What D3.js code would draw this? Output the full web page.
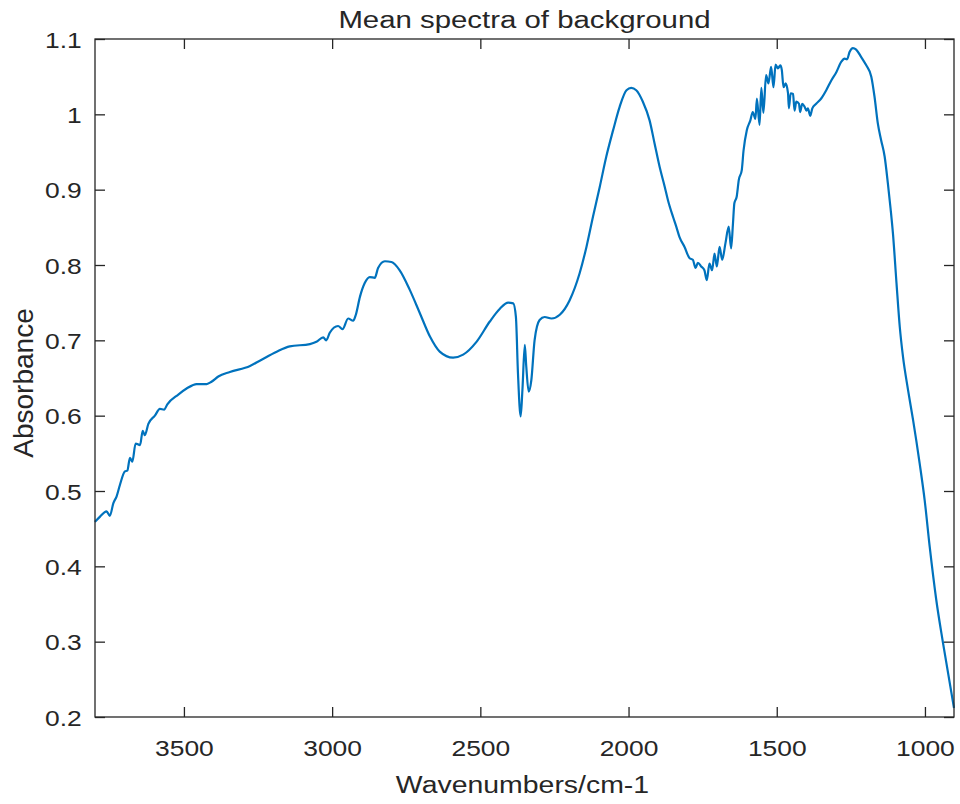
<!DOCTYPE html>
<html>
<head>
<meta charset="utf-8">
<script src="https://cdn.jsdelivr.net/npm/d3@7"></script>
<style>
  body { margin: 0; background: #fff; }
  svg text { font-family: "Liberation Sans", Arial, Helvetica, sans-serif; fill: #262626; }
</style>
</head>
<body>
<div id="chart"></div>
<script>
// wavenumbers (cm-1), high to low
var wavenumbers = [3800, 3783, 3761, 3750, 3738, 3727, 3716, 3699, 3691, 3682, 3674, 3663, 3648, 3639, 3632, 3620,
    3598, 3581, 3567, 3556, 3519, 3491, 3457, 3423, 3407, 3384, 3345, 3277, 3244, 3187, 3143, 3075, 3053, 3030, 3020,
    3008, 2980, 2965, 2946, 2929, 2920, 2906, 2890, 2873, 2856, 2845, 2822, 2800, 2772, 2738, 2704, 2670, 2637, 2592,
    2558, 2513, 2468, 2434, 2406, 2389, 2380, 2373, 2364, 2358, 2350, 2345, 2337, 2328, 2317, 2300, 2283, 2260, 2232,
    2199, 2165, 2142, 2120, 2097, 2075, 2052, 2030, 2007, 1991, 1974, 1952, 1929, 1912, 1895, 1878, 1867, 1850, 1839,
    1828, 1811, 1794, 1783, 1774, 1766, 1755, 1744, 1736, 1727, 1718, 1710, 1702, 1693, 1684, 1673, 1662, 1654, 1648,
    1643, 1635, 1628, 1618, 1612, 1601, 1589, 1581, 1572, 1567, 1558, 1552, 1545, 1536, 1528, 1519, 1511, 1504, 1496,
    1488, 1483, 1477, 1470, 1462, 1459, 1453, 1445, 1440, 1434, 1425, 1421, 1414, 1406, 1400, 1395, 1387, 1380, 1367,
    1350, 1333, 1316, 1299, 1282, 1271, 1263, 1254, 1243, 1232, 1215, 1198, 1181, 1170, 1159, 1148, 1136, 1125, 1116,
    1108, 1096, 1085, 1074, 1057, 1040, 1018, 1001, 984, 962, 939, 906, 902];

var absorbance = [0.459, 0.466, 0.473, 0.467, 0.484, 0.493, 0.508, 0.526, 0.527, 0.544, 0.539, 0.563, 0.561, 0.580, 0.574, 0.589,
    0.600, 0.609, 0.608, 0.615, 0.628, 0.636, 0.642, 0.642, 0.645, 0.652, 0.658, 0.666, 0.673, 0.685, 0.692, 0.695, 0.698, 0.704, 0.700,
    0.710, 0.719, 0.715, 0.729, 0.726, 0.734, 0.758, 0.776, 0.784, 0.783, 0.796, 0.805, 0.804, 0.793, 0.767, 0.736, 0.705, 0.685, 0.677,
    0.681, 0.698, 0.725, 0.742, 0.750, 0.749, 0.731, 0.656, 0.599, 0.634, 0.694, 0.665, 0.632, 0.647, 0.700, 0.727, 0.731, 0.729, 0.734,
    0.753, 0.789, 0.824, 0.864, 0.904, 0.944, 0.979, 1.010, 1.032, 1.035, 1.032, 1.017, 0.992, 0.961, 0.930, 0.904, 0.886, 0.864, 0.851,
    0.837, 0.824, 0.809, 0.807, 0.796, 0.803, 0.798, 0.793, 0.780, 0.802, 0.793, 0.815, 0.798, 0.824, 0.807, 0.829, 0.851, 0.822, 0.853,
    0.882, 0.891, 0.913, 0.926, 0.952, 0.979, 0.992, 1.003, 0.994, 1.021, 0.986, 1.035, 1.002, 1.052, 1.041, 1.063, 1.036, 1.066, 1.061,
    1.065, 1.059, 1.036, 1.041, 1.028, 1.008, 1.028, 1.027, 1.005, 1.017, 1.014, 1.003, 1.014, 1.010, 1.005, 1.008, 0.998, 1.008, 1.014,
    1.021, 1.032, 1.045, 1.056, 1.070, 1.074, 1.073, 1.083, 1.088, 1.086, 1.076, 1.065, 1.050, 1.023, 0.988, 0.966, 0.944, 0.908, 0.875,
    0.842, 0.776, 0.718, 0.678, 0.634, 0.594, 0.537, 0.488, 0.426, 0.356, 0.298, 0.221, 0.212];

var xTicks = [3500, 3000, 2500, 2000, 1500, 1000];
var xTickLabels = ['3500', '3000', '2500', '2000', '1500', '1000'];
var yTicks = [0.2, 0.3, 0.4, 0.5, 0.6, 0.7, 0.8, 0.9, 1, 1.1];
var yTickLabels = ['0.2', '0.3', '0.4', '0.5', '0.6', '0.7', '0.8', '0.9', '1', '1.1'];

var svgWidth = 960, svgHeight = 804;
var margin = {left: 95, top: 39, right: 6, bottom: 87};
var plotW = svgWidth - margin.left - margin.right;
var plotH = svgHeight - margin.top - margin.bottom;
var axisColor = '#262626';
var stretch = 1.2; // text in the picture is drawn a bit wide

var points = wavenumbers.map(function(w, i) { return {x: w, y: absorbance[i]}; });

var svg = d3.select('#chart')
    .append('svg')
    .attr('width', svgWidth)
    .attr('height', svgHeight);

var g = svg.append('g')
    .attr('transform', 'translate(' + margin.left + ',' + margin.top + ')');

// reversed x axis like the spectrum software does
var x = d3.scaleLinear().domain([3800, 902]).range([0, plotW]);
var y = d3.scaleLinear().domain([0.2, 1.1]).range([plotH, 0]);

function styleAxis(sel) {
    sel.select('.domain').remove();
    sel.selectAll('line').attr('stroke', axisColor).attr('stroke-width', 1.3);
    sel.selectAll('text').attr('fill', axisColor);
}

var xAxis = g.append('g')
    .attr('transform', 'translate(0,' + plotH + ')')
    .call(d3.axisBottom(x).tickValues(xTicks)
        .tickFormat(function(d, i) { return xTickLabels[i]; })
        .tickSizeInner(-10).tickSizeOuter(0).tickPadding(0));
styleAxis(xAxis);
xAxis.selectAll('text')
    .attr('y', 39.5)
    .attr('dy', 0)
    .style('font-size', '22px')
    .attr('transform', 'scale(' + stretch + ',1)');

g.append('g')
    .call(d3.axisTop(x).tickValues(xTicks).tickFormat('').tickSizeInner(-10).tickSizeOuter(0))
    .call(styleAxis);

var yAxis = g.append('g')
    .call(d3.axisLeft(y).tickValues(yTicks)
        .tickFormat(function(d, i) { return yTickLabels[i]; })
        .tickSizeInner(-10).tickSizeOuter(0));
styleAxis(yAxis);
yAxis.selectAll('text')
    .attr('x', -13.3 / stretch)
    .attr('dy', 0)
    .attr('y', 8)
    .style('font-size', '22px')
    .attr('transform', 'scale(' + stretch + ',1)');

g.append('g')
    .attr('transform', 'translate(' + plotW + ',0)')
    .call(d3.axisRight(y).tickValues(yTicks).tickFormat('').tickSizeInner(-10).tickSizeOuter(0))
    .call(styleAxis);

// the spectrum
var line = d3.line()
    .x(function(d) { return x(d.x); })
    .y(function(d) { return y(d.y); })
    .curve(d3.curveMonotoneX);

g.append('path')
    .datum(points)
    .attr('d', line)
    .attr('fill', 'none')
    .attr('stroke', '#0072BD')
    .attr('stroke-width', 2.2)
    .attr('stroke-linejoin', 'round');

// box
g.append('rect')
    .attr('width', plotW)
    .attr('height', plotH)
    .attr('fill', 'none')
    .attr('stroke', axisColor)
    .attr('stroke-width', 1.3);

// labels
svg.append('text')
    .attr('transform', 'translate(' + (margin.left + plotW / 2) + ',28.3) scale(1.25,1)')
    .attr('text-anchor', 'middle')
    .style('font-size', '23.5px')
    .attr('fill', '#000')
    .text('Mean spectra of background');

svg.append('text')
    .attr('transform', 'translate(' + (margin.left + plotW / 2 - 2) + ',793.3) scale(1.21,1)')
    .attr('text-anchor', 'middle')
    .style('font-size', '23.5px')
    .text('Wavenumbers/cm-1');

svg.append('text')
    .attr('transform', 'translate(33,383) rotate(-90)')
    .attr('text-anchor', 'middle')
    .style('font-size', '28px')
    .text('Absorbance');
</script>
</body>
</html>
